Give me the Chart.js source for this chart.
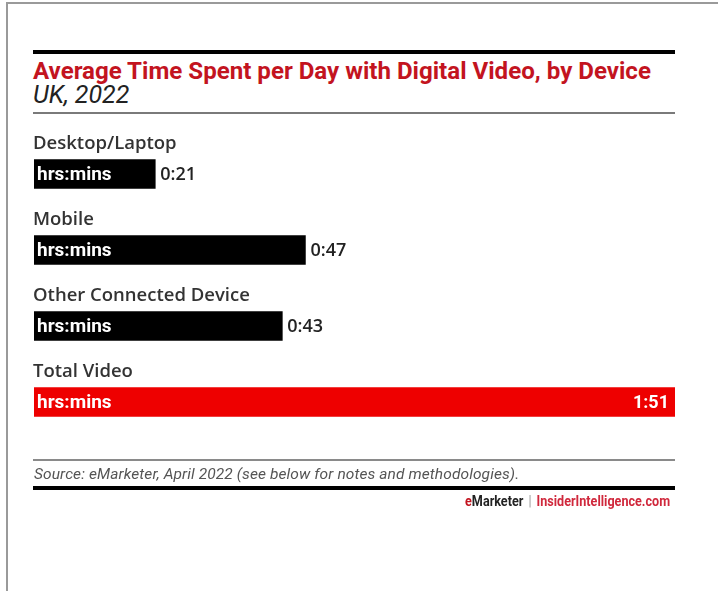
<!DOCTYPE html>
<html>
<head>
<meta charset="utf-8">
<script src="https://cdn.jsdelivr.net/npm/chart.js@4/dist/chart.umd.min.js"></script>
<style>
  html, body { margin: 0; padding: 0; background: #fff; }
  body { width: 718px; height: 591px; position: relative; overflow: hidden; font-family: Roboto, "Liberation Sans", sans-serif; }
  #frameTop { position: absolute; left: 6px; top: 2px; width: 712px; height: 2px; background: #9a9a9a; }
  #frameLeft { position: absolute; left: 6px; top: 2px; width: 2px; height: 589px; background: #9a9a9a; }
  .rule { position: absolute; left: 33px; width: 642px; }
  #ruleTop { top: 50px; height: 4px; background: #000; }
  #ruleSub { top: 112px; height: 2px; background: #7a7a7a; }
  #ruleSrc { top: 459px; height: 2px; background: #8a8a8a; }
  #ruleBot { top: 486px; height: 4px; background: #000; }
  #title { position: absolute; left: 33px; top: 57px; font: 700 24.1px Roboto, sans-serif; color: #c3141f; white-space: nowrap; }
  #subtitle { position: absolute; left: 33px; top: 80px; font: italic 400 25px Roboto, sans-serif; color: #222; white-space: nowrap; }
  #source { position: absolute; left: 34px; top: 465px; font: italic 400 15.5px Roboto, sans-serif; color: #555; white-space: nowrap; letter-spacing: 0.1px; }
  #brand { position: absolute; right: 48px; top: 492px; font: 700 15px Roboto, sans-serif; white-space: nowrap; color: #222; transform: scaleX(0.84); transform-origin: right center; }
  #brand .e { color: #c3141f; }
  #brand .sep { color: #999; font-weight: 400; padding: 0 6px; }
  #brand .ii { color: #d0283c; }
  #chart { position: absolute; left: 0; top: 0; }
</style>
</head>
<body>
<div id="frameTop"></div>
<div id="frameLeft"></div>
<div class="rule" id="ruleTop"></div>
<div id="title">Average Time Spent per Day with Digital Video, by Device</div>
<div id="subtitle">UK, 2022</div>
<div class="rule" id="ruleSub"></div>
<canvas id="chart" width="718" height="591"></canvas>
<div class="rule" id="ruleSrc"></div>
<div id="source">Source: eMarketer, April 2022 (see below for notes and methodologies).</div>
<div class="rule" id="ruleBot"></div>
<div id="brand"><span class="e">e</span>Marketer<span class="sep">|</span><span class="ii">InsiderIntelligence.com</span></div>
<script>
// Average daily minutes spent with digital video, by device
const categories = ["Desktop/Laptop", "Mobile", "Other Connected Device", "Total Video"];
const minutes = [21, 47, 43, 111];
const barColors = ["#000000", "#000000", "#000000", "#ee0000"];
const unitLabel = "hrs:mins";

function hrsMins(m) {
  const h = Math.floor(m / 60);
  const r = m % 60;
  return h + ":" + (r < 10 ? "0" : "") + r;
}

// Category names above each bar, unit text inside, value after the bar end
const barText = {
  id: "barText",
  afterDatasetsDraw(chart) {
    const ctx = chart.ctx;
    const meta = chart.getDatasetMeta(0);
    const area = chart.chartArea;
    ctx.save();
    ctx.textBaseline = "middle";
    meta.data.forEach((bar, i) => {
      const top = bar.y - bar.height / 2;
      ctx.fillStyle = "#333";
      ctx.font = "600 18.5px 'Open Sans', sans-serif";
      ctx.textAlign = "left";
      ctx.fillText(categories[i], area.left - 1, top - 16);

      ctx.fillStyle = "#fff";
      ctx.font = "700 19px Roboto, sans-serif";
      ctx.fillText(unitLabel, area.left + 3, bar.y + 1);

      const label = hrsMins(minutes[i]);
      ctx.font = "600 18px 'Open Sans', sans-serif";
      const w = ctx.measureText(label).width;
      if (bar.x + 8 + w > area.right) {
        ctx.fillStyle = "#fff";
        ctx.font = "700 18px Roboto, sans-serif";
        ctx.textAlign = "right";
        ctx.fillText(label, bar.x - 6, bar.y + 1);
      } else {
        ctx.fillStyle = "#222";
        ctx.textAlign = "left";
        ctx.fillText(label, bar.x + 5, bar.y + 1);
      }
    });
    ctx.restore();
  }
};

new Chart(document.getElementById("chart"), {
  type: "bar",
  data: {
    labels: categories,
    datasets: [{
      data: minutes,
      backgroundColor: barColors,
      borderWidth: 0,
      barThickness: 29
    }]
  },
  options: {
    indexAxis: "y",
    responsive: false,
    animation: false,
    events: [],
    layout: { padding: { left: 34, right: 43, top: 136, bottom: 151 } },
    scales: {
      x: { display: false, min: 0, max: 111 },
      y: { display: false }
    },
    plugins: {
      legend: { display: false },
      tooltip: { enabled: false }
    }
  },
  plugins: [barText]
});
</script>
</body>
</html>
